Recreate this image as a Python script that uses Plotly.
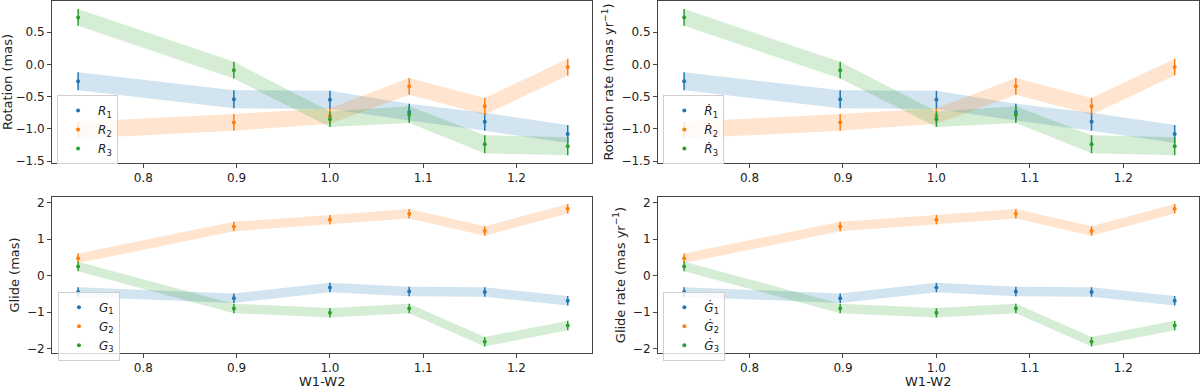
import plotly.graph_objects as go

# W1-W2 colour bins
w1w2 = [0.73, 0.897, 1.0, 1.085, 1.166, 1.255]

# rotation (mas) and its errors
r1 = [-0.26, -0.54, -0.55, -0.74, -0.89, -1.08]
r2 = [-1.02, -0.90, -0.80, -0.34, -0.65, -0.04]
r3 = [0.73, -0.09, -0.85, -0.78, -1.24, -1.27]
r1_err = [0.14, 0.14, 0.14, 0.13, 0.14, 0.14]
r2_err = [0.13, 0.13, 0.12, 0.13, 0.13, 0.13]
r3_err = [0.13, 0.13, 0.12, 0.13, 0.14, 0.14]

# glide (mas) and its errors
g1 = [-0.45, -0.62, -0.33, -0.44, -0.45, -0.69]
g2 = [0.47, 1.34, 1.53, 1.69, 1.22, 1.83]
g3 = [0.25, -0.90, -1.02, -0.90, -1.81, -1.37]
g1_err = [0.13, 0.13, 0.13, 0.13, 0.13, 0.13]
g2_err = [0.13, 0.13, 0.13, 0.13, 0.13, 0.13]
g3_err = [0.13, 0.13, 0.13, 0.13, 0.13, 0.13]

# the rate panels show the same values
rdot1, rdot2, rdot3 = r1, r2, r3
gdot1, gdot2, gdot3 = g1, g2, g3

COLORS = ["#1f77b4", "#ff7f0e", "#2ca02c"]
BANDS = ["rgba(31,119,180,0.2)", "rgba(255,127,14,0.2)", "rgba(44,160,44,0.2)"]

fig = go.Figure()


def add_panel(xa, ya, legend, series, errs, names):
    for i, (vals, err) in enumerate(zip(series, errs)):
        upper = [v + e for v, e in zip(vals, err)]
        lower = [v - e for v, e in zip(vals, err)]
        fig.add_trace(go.Scatter(
            x=w1w2 + w1w2[::-1],
            y=upper + lower[::-1],
            fill="toself",
            fillcolor=BANDS[i],
            line=dict(width=0),
            mode="lines",
            hoverinfo="skip",
            showlegend=False,
            xaxis=xa, yaxis=ya,
        ))
    for i, (vals, err, name) in enumerate(zip(series, errs, names)):
        fig.add_trace(go.Scatter(
            x=w1w2, y=vals,
            mode="markers",
            marker=dict(color=COLORS[i], size=4),
            error_y=dict(type="data", array=err, color=COLORS[i],
                         thickness=1.5, width=0),
            name=name,
            legend=legend,
            xaxis=xa, yaxis=ya,
        ))


add_panel("x", "y", "legend", [r1, r2, r3], [r1_err, r2_err, r3_err],
          ["<i>R</i><sub>1</sub>", "<i>R</i><sub>2</sub>", "<i>R</i><sub>3</sub>"])
add_panel("x2", "y2", "legend2", [rdot1, rdot2, rdot3], [r1_err, r2_err, r3_err],
          ["<i>Ṙ</i><sub>1</sub>", "<i>Ṙ</i><sub>2</sub>", "<i>Ṙ</i><sub>3</sub>"])
add_panel("x3", "y3", "legend3", [g1, g2, g3], [g1_err, g2_err, g3_err],
          ["<i>G</i><sub>1</sub>", "<i>G</i><sub>2</sub>", "<i>G</i><sub>3</sub>"])
add_panel("x4", "y4", "legend4", [gdot1, gdot2, gdot3], [g1_err, g2_err, g3_err],
          ["<i>Ġ</i><sub>1</sub>", "<i>Ġ</i><sub>2</sub>", "<i>Ġ</i><sub>3</sub>"])

axis_style = dict(
    showline=True, mirror=True, linecolor="#444", linewidth=1,
    ticks="outside", ticklen=4, tickcolor="#444",
    showgrid=False, zeroline=False, automargin=False,
    tickfont=dict(size=12, color="#222"),
)
xa_style = dict(axis_style, range=[0.702, 1.281], dtick=0.1, tickformat=".1f")

left = [0, 0.4708]
right = [0.5283, 1]
top = [0.5398, 1]
bottom = [0, 0.4432]

legend_style = dict(
    bgcolor="rgba(255,255,255,0.8)", bordercolor="#d0d0d0", borderwidth=1,
    font=dict(size=12, color="#222"), xanchor="left", yanchor="top",
    tracegroupgap=0, itemwidth=30,
)

# x-axis titles of the bottom row, placed just under the tick labels
xtitles = [
    dict(text="W1-W2", xref="paper", yref="paper", x=sum(dom) / 2, y=-0.1051,
         xanchor="center", yanchor="bottom", showarrow=False, borderpad=0,
         font=dict(size=13, color="#222"))
    for dom in (left, right)
]

fig.update_layout(
    width=1200, height=390,
    margin=dict(l=52, r=1, t=1, b=37, autoexpand=False),
    paper_bgcolor="white", plot_bgcolor="white",
    font=dict(family="DejaVu Sans", color="#222"),
    xaxis=dict(xa_style, domain=left, anchor="y"),
    yaxis=dict(axis_style, domain=top, anchor="x", range=[-1.53, 0.985],
               dtick=0.5, tickformat=".1f",
               title=dict(text="Rotation (mas)", font=dict(size=13), standoff=4)),
    xaxis2=dict(xa_style, domain=right, anchor="y2"),
    yaxis2=dict(axis_style, domain=top, anchor="x2", range=[-1.53, 0.985],
                dtick=0.5, tickformat=".1f",
                title=dict(text="Rotation rate (mas yr<sup>−1</sup>)",
                           font=dict(size=13), standoff=4)),
    xaxis3=dict(xa_style, domain=left, anchor="y3"),
    yaxis3=dict(axis_style, domain=bottom, anchor="x3", range=[-2.12, 2.15],
                dtick=1,
                title=dict(text="Glide (mas)", font=dict(size=13), standoff=4)),
    xaxis4=dict(xa_style, domain=right, anchor="y4"),
    yaxis4=dict(axis_style, domain=bottom, anchor="x4", range=[-2.12, 2.15],
                dtick=1,
                title=dict(text="Glide rate (mas yr<sup>−1</sup>)",
                           font=dict(size=13), standoff=4)),
    legend=dict(legend_style, x=0.0044, y=0.733),
    legend2=dict(legend_style, x=0.533, y=0.733),
    legend3=dict(legend_style, x=0.0052, y=0.1741),
    legend4=dict(legend_style, x=0.533, y=0.1741),
    annotations=xtitles,
)

# drop the browser's default 8px page margin so the figure sits at (0, 0)
fig.write_html("out.html", config={"displayModeBar": False},
               post_script="document.body.style.margin = '0';")
